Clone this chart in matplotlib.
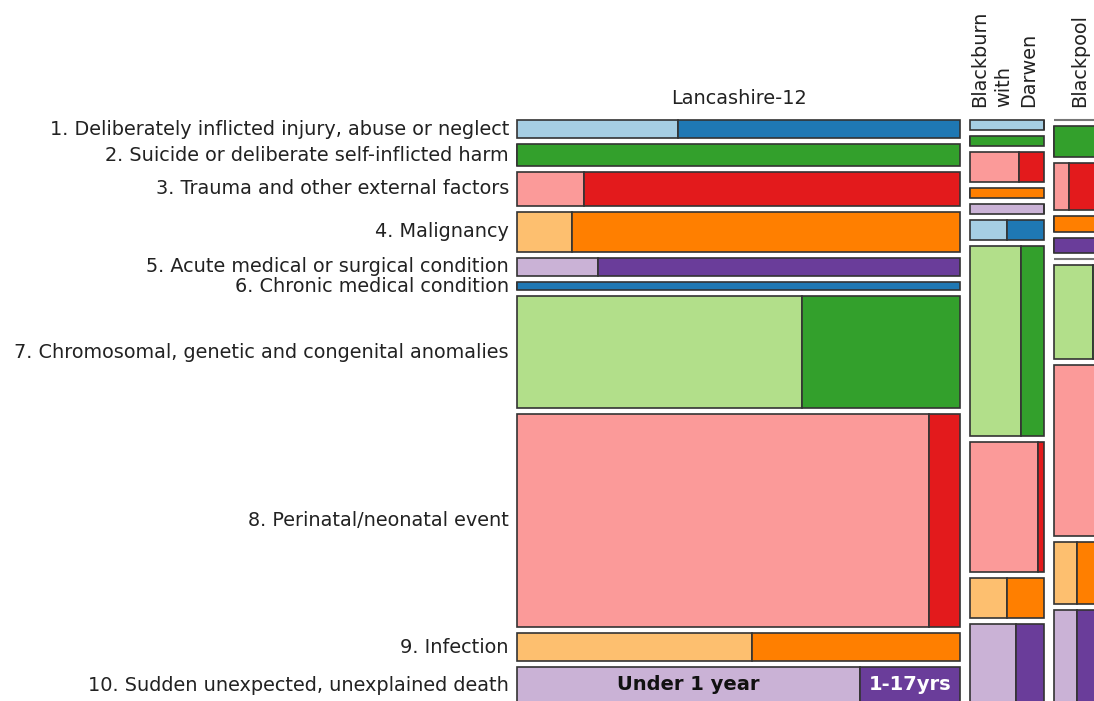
import numpy as np
import matplotlib.pyplot as plt
from matplotlib.patches import Rectangle

# 死因类别
categories = ['1. Deliberately inflicted injury, abuse or neglect',
              '2. Suicide or deliberate self-inflicted harm',
              '3. Trauma and other external factors',
              '4. Malignancy',
              '5. Acute medical or surgical condition',
              '6. Chronic medical condition',
              '7. Chromosomal, genetic and congenital anomalies',
              '8. Perinatal/neonatal event',
              '9. Infection',
              '10. Sudden unexpected, unexplained death']
areas = ['Lancashire-12', 'Blackburn\nwith\nDarwen', 'Blackpool']

# deaths per category: under 1 year / 1-17 years
lanc_u1 = [4, 0, 3, 3, 2, 0, 43, 118, 9, 17]
lanc_old = [7, 13, 17, 21, 9, 5, 24, 9, 8, 5]
bwd_u1 = [1, 0, 2, 0, 1, 1, 13, 12, 2, 5]
bwd_old = [0, 1, 1, 1, 0, 1, 6, 1, 2, 3]
bpool_u1 = [0, 0, 1, 0, 0, 0, 5, 11, 2, 3]
bpool_old = [0, 2, 2, 1, 1, 0, 1, 0, 2, 3]

u1 = [lanc_u1, bwd_u1, bpool_u1]
old = [lanc_old, bwd_old, bpool_old]

light = ['#a6cee3', '#b2df8a', '#fb9a99', '#fdbf6f', '#cab2d6']
dark = ['#1f78b4', '#33a02c', '#e31a1c', '#ff7f00', '#6a3d9a']

# layout (pixels)
W, H = 1094, 701
x0, y0 = 517, 120
px_per_death_x = 442 / 316
col_gap = 9.5
row_gap = 6
col_height = 530
fs = 13.9
head_shift = [0, -3, 2]

fig = plt.figure(figsize=(W / 100, H / 100), dpi=100)
ax = fig.add_axes([0, 0, 1, 1])
ax.set_xlim(0, W)
ax.set_ylim(H, 0)
ax.axis('off')

txt = '#222222'
x = x0
for k in range(len(areas)):
    a = np.array(u1[k])
    b = np.array(old[k])
    tot = a + b
    width = tot.sum() * px_per_death_x
    scale = col_height / tot.sum()
    y = y0
    for i in range(len(categories)):
        h = tot[i] * scale
        if tot[i] == 0:
            ax.plot([x, x + width], [y - 0.5, y - 0.5], color='#777777', lw=1.5,
                    solid_capstyle='butt', zorder=2)
        else:
            w1 = width * a[i] / tot[i]
            ax.add_patch(Rectangle((x, y), w1, h, facecolor=light[i % 5],
                                   edgecolor='#333333', lw=1.2))
            ax.add_patch(Rectangle((x + w1, y), width - w1, h, facecolor=dark[i % 5],
                                   edgecolor='#333333', lw=1.2))
            if k == 0 and i == len(categories) - 1:
                ax.text(x + w1 / 2, y + h / 2 - 1, 'Under 1 year', ha='center', va='center',
                        fontsize=14, fontweight='bold', color='#111111')
                ax.text(x + w1 + (width - w1) / 2, y + h / 2 - 1, '1-17yrs', ha='center',
                        va='center', fontsize=14, fontweight='bold', color='white')
        if k == 0:
            ax.text(x0 - 8, y + h / 2, categories[i], ha='right', va='center',
                    fontsize=fs, color=txt)
        y += h + row_gap
    if k == 0:
        ax.text(x + width / 2, 99, areas[k], ha='center', va='center',
                fontsize=fs, color=txt)
    else:
        ax.text(x + width / 2 + head_shift[k], 107, areas[k], rotation=90, ha='center',
                va='bottom', multialignment='left', linespacing=1.35, fontsize=fs, color=txt)
    x += width + col_gap

plt.savefig('out.png', dpi=100)
plt.close()
